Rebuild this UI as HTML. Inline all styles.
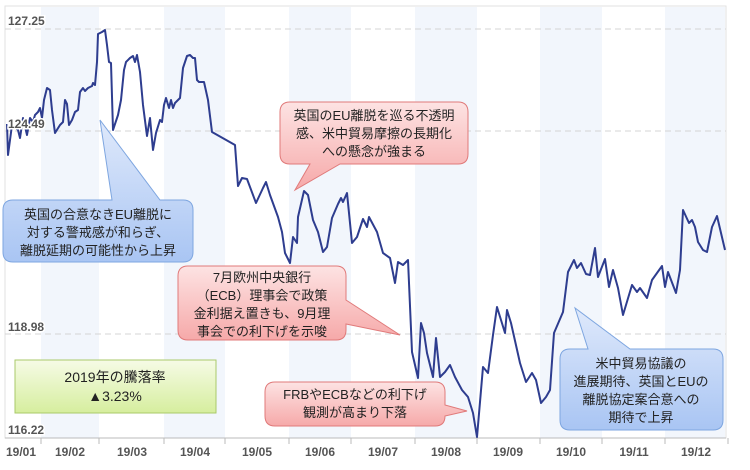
<!DOCTYPE html>
<html><head><meta charset="utf-8"><style>
body{margin:0;background:#fff;}
svg{display:block;font-family:"Liberation Sans","Noto Sans CJK JP",sans-serif;}
</style></head><body>
<svg width="750" height="470" viewBox="0 0 750 470" xmlns="http://www.w3.org/2000/svg">
<defs>
<linearGradient id="bl" x1="0" y1="0" x2="0" y2="1"><stop offset="0" stop-color="#dfe9fb"/><stop offset="1" stop-color="#a9c5f3"/></linearGradient>
<linearGradient id="rd" x1="0" y1="0" x2="0" y2="1"><stop offset="0" stop-color="#fde3e3"/><stop offset="1" stop-color="#f6a9a9"/></linearGradient>
<linearGradient id="gr" x1="0" y1="0" x2="0" y2="1"><stop offset="0" stop-color="#f6fbe6"/><stop offset="1" stop-color="#d6ee9e"/></linearGradient>
</defs>
<rect x="5" y="6" width="721" height="432" fill="#fff" stroke="#e2e2e2"/>
<g fill="#f2f6fc">
<rect x="41" y="7" width="58" height="431"/><rect x="164" y="7" width="61" height="431"/>
<rect x="289" y="7" width="62" height="431"/><rect x="415" y="7" width="62" height="431"/>
<rect x="540" y="7" width="62" height="431"/><rect x="665" y="7" width="60" height="431"/>
</g>
<g stroke="#d4d4d4" stroke-dasharray="6,4" stroke-width="1">
<line x1="5" y1="29" x2="726" y2="29"/><line x1="5" y1="131" x2="726" y2="131"/>
<line x1="5" y1="334" x2="726" y2="334"/>
</g>
<line x1="5" y1="438" x2="726" y2="438" stroke="#bbb"/>
<g stroke="#bbb"><line x1="41" y1="438" x2="41" y2="444"/><line x1="99" y1="438" x2="99" y2="444"/><line x1="164" y1="438" x2="164" y2="444"/><line x1="225" y1="438" x2="225" y2="444"/><line x1="289" y1="438" x2="289" y2="444"/><line x1="351" y1="438" x2="351" y2="444"/><line x1="415" y1="438" x2="415" y2="444"/><line x1="477" y1="438" x2="477" y2="444"/><line x1="540" y1="438" x2="540" y2="444"/><line x1="602" y1="438" x2="602" y2="444"/><line x1="665" y1="438" x2="665" y2="444"/><line x1="728" y1="438" x2="728" y2="444"/></g>
<g font-size="12" font-weight="bold" fill="#555" text-anchor="middle">
<text x="21" y="456">19/01</text><text x="70" y="456">19/02</text><text x="132" y="456">19/03</text><text x="195" y="456">19/04</text><text x="257" y="456">19/05</text><text x="320" y="456">19/06</text><text x="383" y="456">19/07</text><text x="446" y="456">19/08</text><text x="508" y="456">19/09</text><text x="571" y="456">19/10</text><text x="634" y="456">19/11</text><text x="696" y="456">19/12</text>
</g>
<polyline fill="none" stroke="#2e3d8f" stroke-width="2" stroke-linejoin="round" points="7,124 8,155 12,125 18,130 20,138 23,118 27,135 30,118 33,122 35,115 38,112 40,108 42,118 44,100 47,88 50,90 52,110 55,133 60,125 63,122 65,100 67,104 69,125 72,120 75,112 78,110 80,92 83,88 85,91 88,88 92,86 93,83 95,85 97,62 98,34 102,32 105,30 107,45 109,62 111,63 113,130 118,115 121,100 124,70 126,62 130,58 133,56 135,62 137,55 140,72 143,105 147,136 150,118 153,150 156,133 160,120 162,122 164,105 166,98 169,108 171,100 173,108 175,103 180,98 183,68 187,56 190,55 193,58 195,58 197,80 199,82 204,82 208,100 212,132 235,145 238,186 242,178 247,179 256,203 263,188 266,182 270,195 278,217 282,232 285,253 290,263 293,237 297,243 298,217 304,191 308,195 313,220 318,232 323,252 327,247 332,218 338,204 341,198 343,202 347,193 352,243 357,237 363,219 367,227 369,217 377,232 383,253 390,258 395,283 398,262 403,265 408,260 412,352 418,378 421,323 424,333 427,353 433,377 436,338 440,377 445,372 450,365 455,377 462,390 468,397 473,413 477,437 483,367 488,373 493,335 497,307 505,333 507,310 511,323 520,363 526,382 532,373 536,380 541,403 546,397 550,390 554,333 563,312 568,272 574,260 577,268 581,263 586,274 590,275 595,248 598,277 605,259 609,287 613,270 618,288 623,315 632,285 637,292 640,288 647,298 652,280 662,266 665,287 668,272 676,293 680,270 683,210 689,223 692,220 695,227 698,242 703,250 707,252 712,227 717,216 725,250"/>
<g font-size="12" font-weight="bold" fill="#555" stroke="#fff" stroke-width="3" paint-order="stroke">
<text x="8" y="25">127.25</text><text x="8" y="128">124.49</text><text x="8" y="331">118.98</text><text x="8" y="434">116.22</text>
</g>
<g font-size="13" fill="#222" text-anchor="middle">
<path d="M13,200 L112,200 L100,120 L160,200 L183,200 Q193,200 193,210 L193,252 Q193,262 183,262 L13,262 Q3,262 3,252 L3,210 Q3,200 13,200 Z" fill="url(#bl)" stroke="#7ea6e0"/>
<text x="98" y="219">英国の合意なきEU離脱に</text><text x="98" y="237">対する警戒感が和らぎ、</text><text x="98" y="255">離脱延期の可能性から上昇</text>
<path d="M290,102 L458,102 Q468,102 468,112 L468,154 Q468,164 458,164 L340,164 L295,190 L310,164 L290,164 Q280,164 280,154 L280,112 Q280,102 290,102 Z" fill="url(#rd)" stroke="#e07a7a"/>
<text x="374" y="120">英国のEU離脱を巡る不透明</text><text x="374" y="138">感、米中貿易摩擦の長期化</text><text x="374" y="156">への懸念が強まる</text>
<path d="M188,266 L336,266 Q346,266 346,276 L346,300 L400,335 L346,324 L346,330 Q346,340 336,340 L188,340 Q178,340 178,330 L178,276 Q178,266 188,266 Z" fill="url(#rd)" stroke="#e07a7a"/>
<text x="262" y="282">7月欧州中央銀行</text><text x="262" y="300">（ECB）理事会で政策</text><text x="262" y="318">金利据え置きも、9月理</text><text x="262" y="336">事会での利下げを示唆</text>
<path d="M275,382 L435,382 Q445,382 445,392 L445,405 L467,411 L445,416 L445,416 Q445,426 435,426 L275,426 Q265,426 265,416 L265,392 Q265,382 275,382 Z" fill="url(#rd)" stroke="#e07a7a"/>
<text x="355" y="399">FRBやECBなどの利下げ</text><text x="355" y="417">観測が高まり下落</text>
<path d="M570,349 L588,349 L575,308 L630,349 L713,349 Q723,349 723,359 L723,420 Q723,430 713,430 L570,430 Q560,430 560,420 L560,359 Q560,349 570,349 Z" fill="url(#bl)" stroke="#7ea6e0"/>
<text x="641" y="368">米中貿易協議の</text><text x="641" y="386">進展期待、英国とEUの</text><text x="641" y="404">離脱協定案合意への</text><text x="641" y="422">期待で上昇</text>
<rect x="15" y="360" width="201" height="53" fill="url(#gr)" stroke="#a9c96a"/>
<text x="115" y="382" font-size="14">2019年の騰落率</text><text x="115" y="401" font-size="14">▲3.23%</text>
</g>
</svg>
</body></html>
